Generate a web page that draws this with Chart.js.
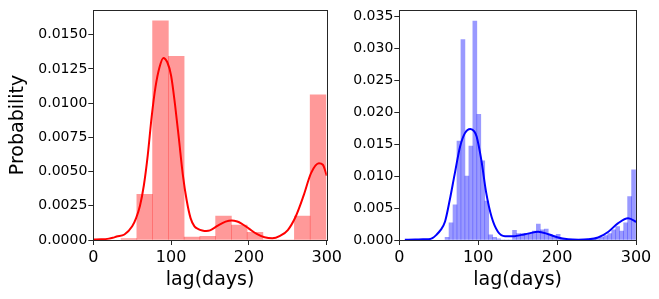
<!DOCTYPE html>
<html>
<head>
<meta charset="utf-8">
<script src="https://cdn.jsdelivr.net/npm/chart.js@4.4.1/dist/chart.umd.min.js"></script>
<style>
  html, body { margin: 0; padding: 0; background: #fff; }
  #wrap { position: relative; width: 659px; height: 299px; overflow: hidden; }
  canvas { position: absolute; top: 0; }
</style>
</head>
<body>
<div id="wrap">
  <canvas id="leftChart" width="345" height="299" style="left:0;width:345px;height:299px"></canvas>
  <canvas id="rightChart" width="329" height="299" style="left:330px;width:329px;height:299px"></canvas>
</div>
<script>
// Data

// left panel: histogram (bin centers, density) + kde
const leftBinCenters = [45.83, 66.08, 86.33, 106.58, 126.83, 147.08, 167.33, 187.58, 207.83, 228.08, 248.33, 268.58, 288.83];
const leftBinValues = [0.0001, 0.00333, 0.0160, 0.01342, 0.00022, 0.00027, 0.00175, 0.00109, 0.00056, 0, 0, 0.00175, 0.0106];

const leftKdeDays = [0, 10, 20, 25, 30, 40, 50, 55, 60, 65, 70, 75, 80, 85, 90, 95, 100, 105, 110, 115, 120, 125, 130, 135, 140, 145, 150, 160, 170, 178, 185, 190, 200, 210, 220, 230, 240, 250, 260, 270, 280, 290, 295, 300];
const leftKdeValues = [0.00004, 0.00005, 0.0001, 0.00016, 0.00025, 0.0004, 0.0010, 0.0016, 0.0025, 0.0040, 0.0062, 0.0090, 0.0112, 0.0126, 0.0133, 0.0130, 0.0120, 0.0099, 0.0074, 0.0048, 0.0029, 0.0016, 0.0010, 0.0008, 0.0007, 0.00066, 0.0007, 0.00105, 0.00134, 0.00143, 0.00135, 0.00122, 0.00083, 0.00044, 0.0002, 0.00012, 0.0003, 0.00073, 0.0017, 0.0032, 0.0049, 0.0056, 0.0055, 0.0047];

const leftYTicks = [0, 0.0025, 0.005, 0.0075, 0.01, 0.0125, 0.015];

// right panel
const rightBinCenters = [60.52, 65.55, 70.58, 75.61, 80.64, 85.67, 90.70, 95.73, 100.76, 105.79, 110.82, 115.85, 120.88, 125.91, 130.94, 135.97, 141.00, 146.03, 151.06, 156.09, 161.12, 166.15, 171.18, 176.21, 181.24, 186.27, 191.30, 196.33, 201.36, 206.39, 211.42, 216.45, 221.48, 226.51, 231.54, 236.57, 241.60, 246.63, 251.66, 256.69, 261.72, 266.75, 271.78, 276.81, 281.84, 286.87, 291.90, 296.93];
const rightBinValues = [0.0004, 0.0027, 0.0055, 0.0155, 0.0314, 0.0100, 0.0147, 0.0343, 0.0197, 0.0124, 0.0061, 0.0008, 0.0004, 0.0002, 0, 0, 0, 0.0015, 0.0010, 0.0010, 0.0010, 0.0011, 0.0014, 0.0025, 0.0016, 0.0017, 0.0009, 0.0006, 0.0009, 0.0002, 0, 0, 0, 0, 0, 0, 0, 0.0001, 0.0002, 0.0004, 0.0007, 0.0010, 0.0016, 0.0021, 0.0014, 0.0027, 0.0068, 0.0110];

const rightKdeDays = [7, 20, 30, 37, 42, 47, 52, 58, 64, 70, 77, 83, 90, 95, 98, 104, 110, 117, 125, 134, 146, 155, 163, 176, 189, 201, 214, 227, 239, 252, 265, 277, 290, 298, 300];
const rightKdeValues = [0.00005, 0.00007, 0.0001, 0.00012, 0.0003, 0.0008, 0.0015, 0.0029, 0.0063, 0.0102, 0.0146, 0.0167, 0.0174, 0.0170, 0.0162, 0.0125, 0.0075, 0.0036, 0.0013, 0.0006, 0.0006, 0.0008, 0.0010, 0.0013, 0.0009, 0.0004, 0.00012, 0.00005, 0.0001, 0.0004, 0.0013, 0.0026, 0.0034, 0.0030, 0.0028];

const rightYTicks = [0, 0.005, 0.01, 0.015, 0.02, 0.025, 0.03, 0.035];

const xTicks = [0, 100, 200, 300];

Chart.defaults.font.family = "'DejaVu Sans', sans-serif";
Chart.defaults.color = '#000';

// frame around the plot area (all four spines)
const framePlugin = {
  id: 'frame',
  afterDatasetsDraw(chart) {
    const { ctx, chartArea: a } = chart;
    ctx.save();
    ctx.strokeStyle = '#262626';
    ctx.lineWidth = 1;
    const l = Math.round(a.left) + 0.5, t = Math.round(a.top) + 0.5;
    const r = Math.round(a.right) + 0.5, b = Math.round(a.bottom) + 0.5;
    ctx.strokeRect(l, t, r - l, b - t);
    ctx.restore();
  }
};

const toPoints = (xs, ys) => xs.map((x, i) => ({ x: x, y: ys[i] }));

const makeChart = (id, cfg) => {
  const ctx = document.getElementById(id).getContext('2d');
  return new Chart(ctx, {
    type: 'bar',
    data: {
      datasets: [
        {
          type: 'line',
          data: toPoints(cfg.kdeDays, cfg.kdeValues),
          borderColor: cfg.lineColor,
          borderWidth: 2,
          pointRadius: 0,
          cubicInterpolationMode: 'monotone',
          fill: false,
          order: 0
        },
        {
          type: 'bar',
          data: toPoints(cfg.binCenters, cfg.binValues),
          backgroundColor: cfg.barColor,
          borderWidth: 0,
          barPercentage: 1,
          categoryPercentage: 1,
          order: 1
        }
      ]
    },
    options: {
      responsive: false,
      animation: false,
      events: [],
      layout: { padding: cfg.padding },
      plugins: { legend: { display: false }, tooltip: { enabled: false } },
      scales: {
        x: {
          type: 'linear',
          min: 0,
          max: 300,
          offset: false,
          afterFit: s => { s.height = 59; },
          afterBuildTicks: s => { s.ticks = xTicks.map(v => ({ value: v })); },
          grid: { offset: false, drawOnChartArea: false, drawTicks: true, tickLength: 5, color: '#262626' },
          border: { display: false },
          ticks: { font: { size: 16 }, padding: 3, maxRotation: 0, autoSkip: false, color: '#000' },
          title: { display: true, text: 'lag(days)', font: { size: 19 }, color: '#000', padding: { top: 0, bottom: 8 } }
        },
        y: {
          type: 'linear',
          min: 0,
          max: cfg.yMax,
          afterFit: s => { s.width = cfg.yWidth; },
          afterBuildTicks: s => { s.ticks = cfg.yTicks.map(v => ({ value: v })); },
          grid: { offset: false, drawOnChartArea: false, drawTicks: true, tickLength: 5, color: '#262626' },
          border: { display: false },
          ticks: {
            font: { size: 14 },
            padding: 1,
            autoSkip: false,
            color: '#000',
            callback: v => v.toFixed(cfg.decimals)
          },
          title: {
            display: cfg.yTitle !== '',
            text: cfg.yTitle,
            font: { size: 19 },
            color: '#000',
            padding: { top: 7, bottom: 0 }
          }
        }
      }
    },
    plugins: [framePlugin]
  });
};

const leftChart = makeChart('leftChart', {
  kdeDays: leftKdeDays, kdeValues: leftKdeValues,
  binCenters: leftBinCenters, binValues: leftBinValues,
  lineColor: '#ff0000', barColor: 'rgba(255,0,0,0.4)',
  yMax: 0.0168, yTicks: leftYTicks, decimals: 4,
  yWidth: 93.3, yTitle: 'Probability',
  padding: { left: 0, top: 10, right: 15.7, bottom: 0 }
});

const rightChart = makeChart('rightChart', {
  kdeDays: rightKdeDays, kdeValues: rightKdeValues,
  binCenters: rightBinCenters, binValues: rightBinValues,
  lineColor: '#0000ff', barColor: 'rgba(0,0,255,0.4)',
  yMax: 0.0361, yTicks: rightYTicks, decimals: 3,
  yWidth: 69.3, yTitle: '',
  padding: { left: 0, top: 9.5, right: 23, bottom: 0 }
});
</script>
</body>
</html>
